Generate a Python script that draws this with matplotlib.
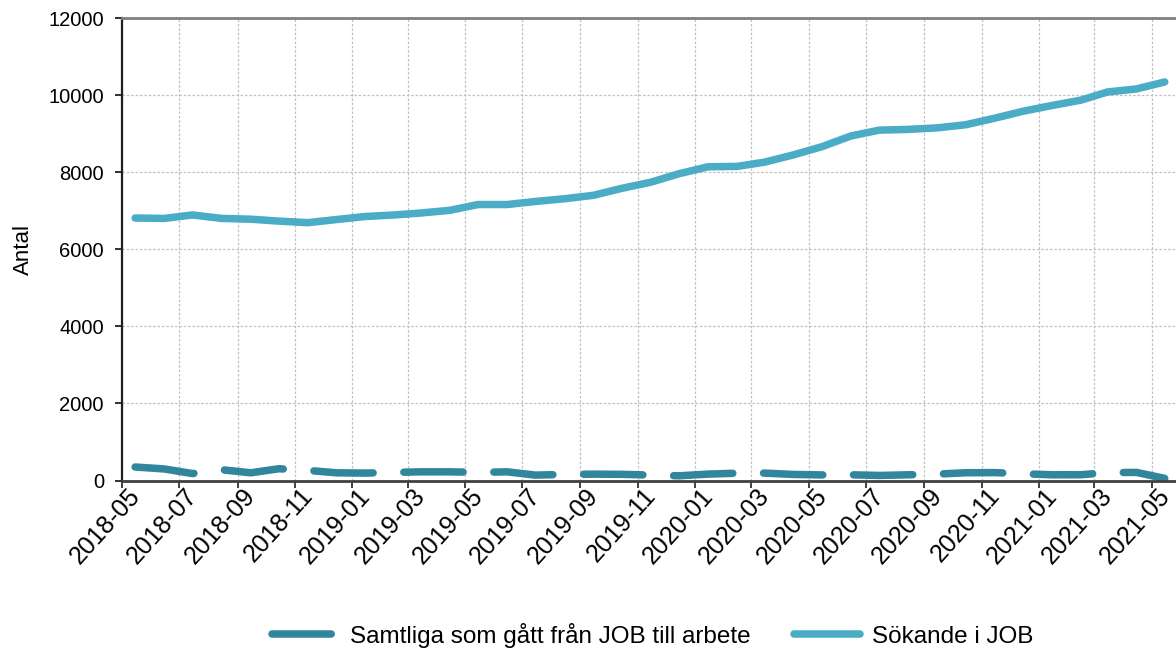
import numpy as np
import pandas as pd
import matplotlib
matplotlib.use("Agg")
import matplotlib.pyplot as plt
import matplotlib.dates as mdates
import matplotlib.transforms as mtransforms

plt.rcParams['font.family'] = ['Liberation Sans', 'DejaVu Sans']

# monthly values, 2018-05 .. 2021-05 (plotted mid-month)
months = pd.date_range('2018-05-01', periods=37, freq='MS') + pd.Timedelta(days=14)

samtliga = [350, 300, 180, 280, 200, 305, 262, 200, 192, 210, 225, 225,
            210, 225, 140, 157, 165, 160, 140, 122, 166, 190, 192, 157,
            145, 148, 131, 148, 166, 201, 205, 175, 148, 150, 205, 210, 55]

sokande = [6810, 6800, 6890, 6800, 6780, 6730, 6690, 6770, 6850, 6890, 6940, 7010,
           7160, 7160, 7240, 7310, 7400, 7580, 7740, 7960, 8140, 8150, 8260, 8450,
           8660, 8940, 9090, 9110, 9150, 9230, 9400, 9580, 9730, 9870, 10080, 10160, 10340]

labels = ['Samtliga som gått från JOB till arbete', 'Sökande i JOB']
dark = '#31869b'
light = '#4bacc6'

fig = plt.figure(figsize=(11.76, 6.5), dpi=100)
ax = fig.add_axes([122/1176, 1-480.5/650, 1-122/1176, (480.5-18)/650])

ax.plot(months, samtliga, color=dark, lw=5.4, linestyle=(0, (7.9, 4.1)),
        dash_capstyle='round', solid_capstyle='round', label=labels[0])
ax.plot(months, sokande, color=light, lw=5.4, solid_capstyle='round', label=labels[1])

ax.set_ylim(0, 12000)
ax.set_yticks(np.arange(0, 12001, 2000))
ax.set_xlim(pd.Timestamp('2018-05-01'), pd.Timestamp('2021-05-27'))
ax.xaxis.set_major_locator(mdates.MonthLocator(bymonth=[1, 3, 5, 7, 9, 11]))
ax.xaxis.set_major_formatter(mdates.DateFormatter('%Y-%m'))

ax.grid(True, color='#c0c0c0', linestyle=(0, (2, 1.5)), linewidth=0.9)
ax.set_axisbelow(True)

ax.spines['left'].set_color('#202020')
ax.spines['left'].set_linewidth(1.6)
ax.spines['bottom'].set_color('#404040')
ax.spines['bottom'].set_linewidth(2)
ax.spines['top'].set_color('#808080')
ax.spines['top'].set_linewidth(2)
ax.spines['right'].set_visible(False)

ax.tick_params(axis='y', labelsize=14.5, length=5, width=1.3, color='#202020', pad=8)
ax.tick_params(axis='x', labelsize=18, length=5, width=1.3, color='#303030', pad=3)
shift = mtransforms.ScaledTranslation(14/100, 0, fig.dpi_scale_trans)
for lab in ax.get_xticklabels():
    lab.set_rotation(48)
    lab.set_ha('right')
    lab.set_va('center')
    lab.set_rotation_mode('anchor')
    lab.set_transform(lab.get_transform() + shift)

ax.set_ylabel('Antal', fontsize=16)
ax.yaxis.set_label_coords(-0.084, 0.5)

fig.legend(loc='center', bbox_to_anchor=(0.555, 0.023), ncol=2, frameon=False,
           fontsize=17.5, handlelength=2.7, columnspacing=1.8, handletextpad=0.5)

fig.savefig('out.png', dpi=100)
